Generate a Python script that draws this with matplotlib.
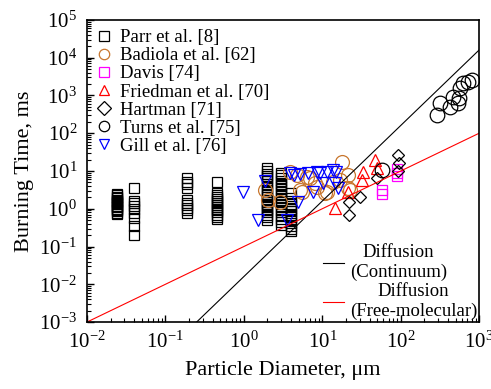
import matplotlib
matplotlib.use("Agg")
import matplotlib.pyplot as plt
import numpy as np
from matplotlib.lines import Line2D

plt.rcParams["font.family"] = ["Liberation Serif", "DejaVu Serif"]
plt.rcParams["mathtext.fontset"] = "stix"

# ---------------------------------------------------------------------------
# datos
# ---------------------------------------------------------------------------
parr_d = (
    [0.024] * 16 + [0.04] * 9 + [0.19] * 10 + [0.46] * 15
    + [2.0] * 22 + [3.0] * 19 + [4.0] * 14
)
parr_t = (
    [2.5, 2.3, 2.1, 1.9, 1.75, 1.6, 1.5, 1.4, 1.3, 1.2, 1.1, 1.0, 0.92, 0.85, 0.78, 0.72]
    + [3.5, 1.6, 1.4, 1.2, 0.98, 0.78, 0.57, 0.35, 0.2]
    + [6.5, 5.2, 4.5, 3.6, 1.7, 1.45, 1.25, 1.05, 0.9, 0.78]
    + [5.2, 2.6, 2.3, 2.0, 1.8, 1.6, 1.4, 1.25, 1.1, 1.0, 0.9, 0.8, 0.7, 0.6, 0.52]
    + [12, 10, 8.5, 7.5, 6.5, 5.5, 4.5, 3.8, 3.2, 2.7, 2.3, 2.0, 1.7, 1.5, 1.3,
       1.15, 1.0, 0.9, 0.8, 0.7, 0.6, 0.5]
    + [9, 7.8, 6.5, 5.5, 4.6, 3.9, 3.3, 2.8, 2.3, 1.9, 1.6, 1.35, 1.1, 0.95,
       0.8, 0.65, 0.55, 0.45, 0.38]
    + [2.6, 1.9, 1.6, 1.35, 1.15, 1.0, 0.85, 0.7, 0.6, 0.5, 0.42, 0.35, 0.3, 0.25]
)

badiola_d = [1.86, 2.04, 2.9, 3.9, 4.8, 5.2, 5.5, 6.4, 7.0, 8.1, 8.6, 10.9, 11.5,
             13.7, 16.9, 17.9, 21.3, 21.3, 22.6]
badiola_t = [3.1, 1.7, 1.5, 9.4, 7.8, 3.1, 2.8, 6.9, 6.5, 4.8, 3.8, 2.6, 2.8,
             5.1, 5.8, 17.4, 7.8, 3.5, 3.1]

davis_d = [58, 58, 90, 90, 90]
davis_t = [3.2, 2.5, 11, 9, 7.5]

friedman_d = [14.6, 21, 32, 33, 47, 50]
friedman_t = [1.05, 2.7, 5.8, 9.4, 19, 12]

hartman_d = [22, 22, 30, 50, 93, 95, 93]
hartman_t = [0.68, 1.5, 2.05, 6.5, 26, 16, 10]

turns_d = [58, 291, 318, 425, 460, 530, 545, 572, 625, 720, 810]
turns_t = [10.7, 302, 630, 500, 910, 630, 850, 1580, 2140, 2200, 2600]

gill_d = [0.98, 1.5, 1.85, 3.6, 3.9, 4.3, 4.9, 5.2, 6.5, 7.6, 8.5, 9.4, 10.2,
          11.5, 13.7, 15, 15.9, 14.5]
gill_t = [2.8, 0.5, 5.5, 0.5, 8.9, 8.0, 1.5, 8.5, 8.9, 2.8, 9.4, 8.9, 4.8,
          9.4, 10.7, 9.4, 3.5, 4.8]

# lineas de difusion: t = k * d^n
d_line = np.array([1e-2, 1e3])
k_cont, n_cont = 0.016, 2
k_free, n_free = 0.1, 1

# ---------------------------------------------------------------------------
# figura
# ---------------------------------------------------------------------------
fig = plt.figure(figsize=(4.91, 3.89), dpi=100)
ax = fig.add_axes([0.177, 0.172, 0.799, 0.777])

orange = "#C8762E"
series = [
    (parr_d, parr_t, "s", "black", 6.5, "Parr et al. [8]"),
    (badiola_d, badiola_t, "o", orange, 10, "Badiola et al. [62]"),
    (davis_d, davis_t, "s", "#FF00FF", 6.5, "Davis [74]"),
    (friedman_d, friedman_t, "^", "#FF0000", 8.5, "Friedman et al. [70]"),
    (hartman_d, hartman_t, "D", "black", 6.5, "Hartman [71]"),
    (turns_d, turns_t, "o", "black", 10.5, "Turns et al. [75]"),
    (gill_d, gill_t, "v", "#0000FF", 8.5, "Gill et al. [76]"),
]

handles = []
for d, t, m, c, ms, lab in series:
    ax.plot(d, t, linestyle="none", marker=m, markersize=ms,
            markerfacecolor="none", markeredgecolor=c, markeredgewidth=0.9)
    handles.append(Line2D([], [], linestyle="none", marker=m, markersize=7.5,
                          markerfacecolor="none", markeredgecolor=c,
                          markeredgewidth=0.9, label=lab))

l_cont, = ax.plot(d_line, k_cont * d_line ** n_cont, color="black", lw=0.8)
l_free, = ax.plot(d_line, k_free * d_line ** n_free, color="#FF0000", lw=0.8)

ax.set_xscale("log")
ax.set_yscale("log")
ax.set_xlim(1e-2, 1e3)
ax.set_ylim(1e-3, 1e5)

ax.tick_params(which="both", direction="in", top=False, right=False,
               labelsize=15, pad=7)
ax.tick_params(which="major", length=5, width=1)
ax.tick_params(which="minor", length=3, width=0.8)
ax.xaxis.set_major_locator(matplotlib.ticker.LogLocator(base=10, numticks=10))
ax.yaxis.set_major_locator(matplotlib.ticker.LogLocator(base=10, numticks=12))
ax.xaxis.set_minor_locator(matplotlib.ticker.LogLocator(base=10, subs=np.arange(2, 10), numticks=12))
ax.yaxis.set_minor_locator(matplotlib.ticker.LogLocator(base=10, subs=np.arange(2, 10), numticks=12))
for s in ax.spines.values():
    s.set_linewidth(1.2)

ax.set_xlabel("Particle Diameter, \u03bcm", fontsize=16, labelpad=6)
ax.set_ylabel("Burning Time, ms", fontsize=16, labelpad=4)

leg1 = ax.legend(handles=handles, loc="upper left", frameon=False,
                 fontsize=13.5, labelspacing=0.05, handlelength=0.8,
                 handletextpad=0.45, borderaxespad=0.4, borderpad=0.1)
ax.add_artist(leg1)

leg2 = ax.legend([l_cont, l_free], ["Diffusion\n(Continuum)", "Diffusion\n(Free-molecular)"],
                 loc="lower right", frameon=False, fontsize=13.5,
                 labelspacing=0.1, handlelength=1.15, handletextpad=0.3,
                 borderaxespad=0.0, borderpad=0.1)
for txt in leg2.get_texts():
    txt.set_multialignment("center")

fig.savefig("out.png", dpi=100)
